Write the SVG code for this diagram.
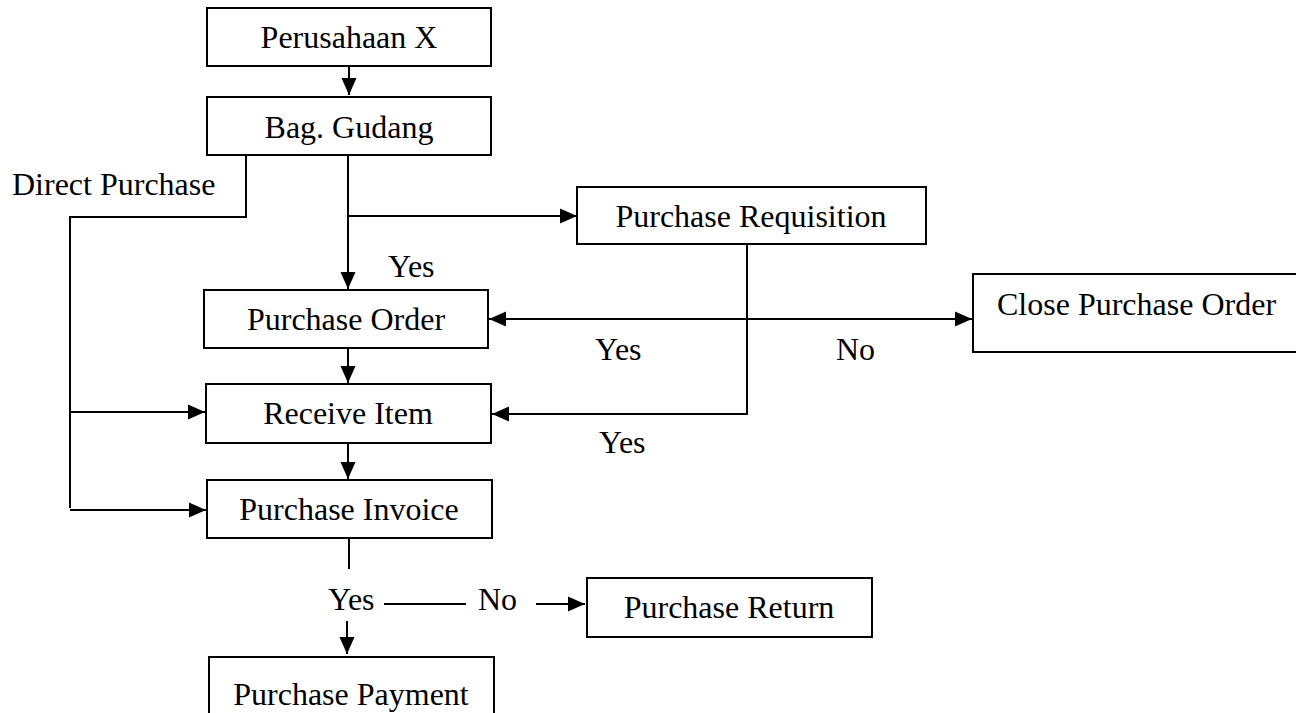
<svg xmlns="http://www.w3.org/2000/svg" width="1296" height="713" viewBox="0 0 1296 713">
  <style>
    .box { fill: #fff; stroke: #000; stroke-width: 2; }
    .t { font-family: "Liberation Serif", "Times New Roman", serif; font-size: 32px; fill: #000; }
    .c { text-anchor: middle; }
    .ln { fill: none; stroke: #000; stroke-width: 2; }
  </style>
  <defs>
    <marker id="ah" markerUnits="userSpaceOnUse" markerWidth="18" markerHeight="18" viewBox="0 0 18 18" refX="17" refY="9" orient="auto-start-reverse">
      <path d="M0,1.5 L17,9 L0,16.5 Z" fill="#000"/>
    </marker>
  </defs>
  <rect width="1296" height="713" fill="#fff"/>

  <g id="connectors">
    <line class="ln" x1="349" y1="66" x2="349" y2="95" marker-end="url(#ah)"/>
    <polyline class="ln" points="246,155 246,217 70,217 70,508"/>
    <line class="ln" x1="70" y1="412" x2="205" y2="412" marker-end="url(#ah)"/>
    <line class="ln" x1="70" y1="510" x2="206" y2="510" marker-end="url(#ah)"/>
    <line class="ln" x1="348" y1="155" x2="348" y2="289" marker-end="url(#ah)"/>
    <line class="ln" x1="348" y1="216" x2="577" y2="216" marker-end="url(#ah)"/>
    <line class="ln" x1="489" y1="319" x2="972" y2="319" marker-start="url(#ah)" marker-end="url(#ah)"/>
    <polyline class="ln" points="747,244 747,414 492,414" marker-end="url(#ah)"/>
    <line class="ln" x1="348" y1="348" x2="348" y2="383" marker-end="url(#ah)"/>
    <line class="ln" x1="348" y1="443" x2="348" y2="479" marker-end="url(#ah)"/>
    <line class="ln" x1="349" y1="538" x2="349" y2="569"/>
    <line class="ln" x1="384" y1="604" x2="466" y2="604"/>
    <line class="ln" x1="536" y1="604" x2="585" y2="604" marker-end="url(#ah)"/>
    <line class="ln" x1="347" y1="621" x2="347" y2="654" marker-end="url(#ah)"/>
    <text class="t" x="12" y="195">Direct Purchase</text>
    <text class="t" x="388" y="277">Yes</text>
    <text class="t" x="595" y="360">Yes</text>
    <text class="t" x="836" y="360">No</text>
    <text class="t" x="599" y="453">Yes</text>
    <text class="t" x="328" y="610">Yes</text>
    <text class="t" x="478" y="610">No</text>
  </g>

  <g id="perusahaan-x">
    <rect class="box" x="207" y="8" width="284" height="58"/>
    <text class="t c" x="349" y="48">Perusahaan X</text>
  </g>
  <g id="bag-gudang">
    <rect class="box" x="207" y="97" width="284" height="58"/>
    <text class="t c" x="349" y="138">Bag. Gudang</text>
  </g>
  <g id="purchase-requisition">
    <rect class="box" x="577" y="187" width="349" height="57"/>
    <text class="t c" x="751" y="227">Purchase Requisition</text>
  </g>
  <g id="purchase-order">
    <rect class="box" x="204" y="290" width="284" height="58"/>
    <text class="t c" x="346" y="330">Purchase Order</text>
  </g>
  <g id="close-purchase-order">
    <rect class="box" x="973" y="274" width="340" height="78"/>
    <text class="t" x="997" y="315">Close Purchase Order</text>
  </g>
  <g id="receive-item">
    <rect class="box" x="206" y="384" width="285" height="59"/>
    <text class="t c" x="348" y="424">Receive Item</text>
  </g>
  <g id="purchase-invoice">
    <rect class="box" x="207" y="480" width="285" height="58"/>
    <text class="t c" x="349" y="520">Purchase Invoice</text>
  </g>
  <g id="purchase-return">
    <rect class="box" x="587" y="578" width="285" height="59"/>
    <text class="t c" x="729" y="618">Purchase Return</text>
  </g>
  <g id="purchase-payment">
    <rect class="box" x="209" y="657" width="285" height="70"/>
    <text class="t c" x="351" y="705">Purchase Payment</text>
  </g>
</svg>
